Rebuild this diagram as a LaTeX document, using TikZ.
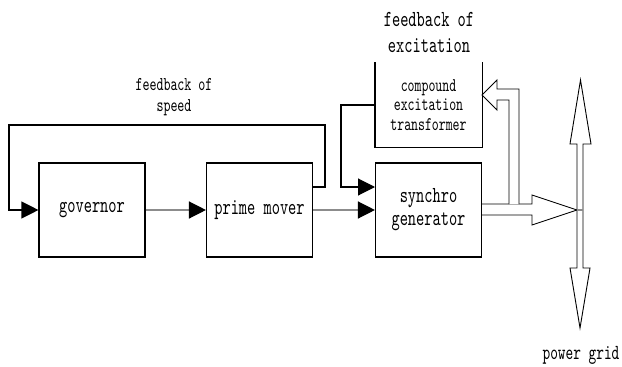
\documentclass[tikz,border=0pt]{standalone}
\usepackage{fontspec}
\newfontfamily\tfont{lmmono10-regular.otf}[FakeStretch=0.68]
\usetikzlibrary{arrows.meta}
\begin{document}
\begin{tikzpicture}[x=1pt,y=-1pt,
  blk/.style={draw=black,line width=1.1pt,minimum width=106pt,minimum height=94pt,inner sep=0pt,font=\tfont\fontsize{23}{23}\selectfont,align=center},
  lbl/.style={font=\tfont\fontsize{19.6}{21}\selectfont,align=center,inner sep=0pt},
  fb/.style={draw=black,line width=1.1pt,-{Triangle[length=17pt,width=17pt,color=black]}},
  fwd/.style={draw=black!45,line width=1.3pt,-{Triangle[length=17pt,width=17pt,color=black]}},
  hollow/.style={draw=black,line width=0.9pt,fill=white,line join=miter}]
\useasboundingbox (0,0) rectangle (622,367);
\node[blk] (gov) at (92,210) {governor};
\node[blk] (pm) at (259.5,210) {prime mover};
\node[blk] (syn) at (428.5,210) {synchro\\generator};
\node[blk,draw=none,minimum height=84pt,font=\tfont\fontsize{19.4}{19.5}\selectfont] (cet) at (428.5,105) {compound\\excitation\\transformer};
\draw[line width=1.1pt] (cet.north west) -- (cet.south west) -- (cet.south east) -- (cet.north east);
% labels
\node[lbl] (fs) at (174,97) {feedback of\\speed};
\node[lbl,font=\tfont\fontsize{23}{26}\selectfont] (fe) at (429,32) {feedback of\\excitation};
\node[lbl,font=\tfont\fontsize{21.5}{22}\selectfont] (pg) at (581,355) {power grid};
% forward connectors
\draw[fwd] (gov.east) -- (pm.west);
\draw[fwd] (pm.east) -- (syn.west);
% speed feedback
\coordinate (s0) at (312,187);
\draw[fb] (s0) -- (325,187) -- (325,125) -- (9,125) -- (9,210) -- (gov.west);
% excitation feedback
\coordinate (e1) at (375,187);
\draw[fb] (cet.west) -- (341,105) -- (341,187) -- (e1);
% hollow output arrow
\draw[hollow] (482,204) -- (532,204) -- (532,195) -- (577,210) -- (532,225) -- (532,215) -- (482,215);
% hollow feedback pipe into transformer
\draw[hollow] (509,204) -- (509,100) -- (497,100) -- (497,110) -- (cet.east |- 0,95) -- (497,80) -- (497,89) -- (519,89) -- (519,204);
% power grid bar
\draw[hollow] (577,268) -- (577,144) -- (570,144) -- (580.5,80) -- (591,144) -- (583,144) -- (583,268) -- (590,268) -- (580,328) -- (570,268) -- cycle;
\draw[draw=black!45,line width=1.1pt] (577,210) -- (583,210);
\end{tikzpicture}
\end{document}
